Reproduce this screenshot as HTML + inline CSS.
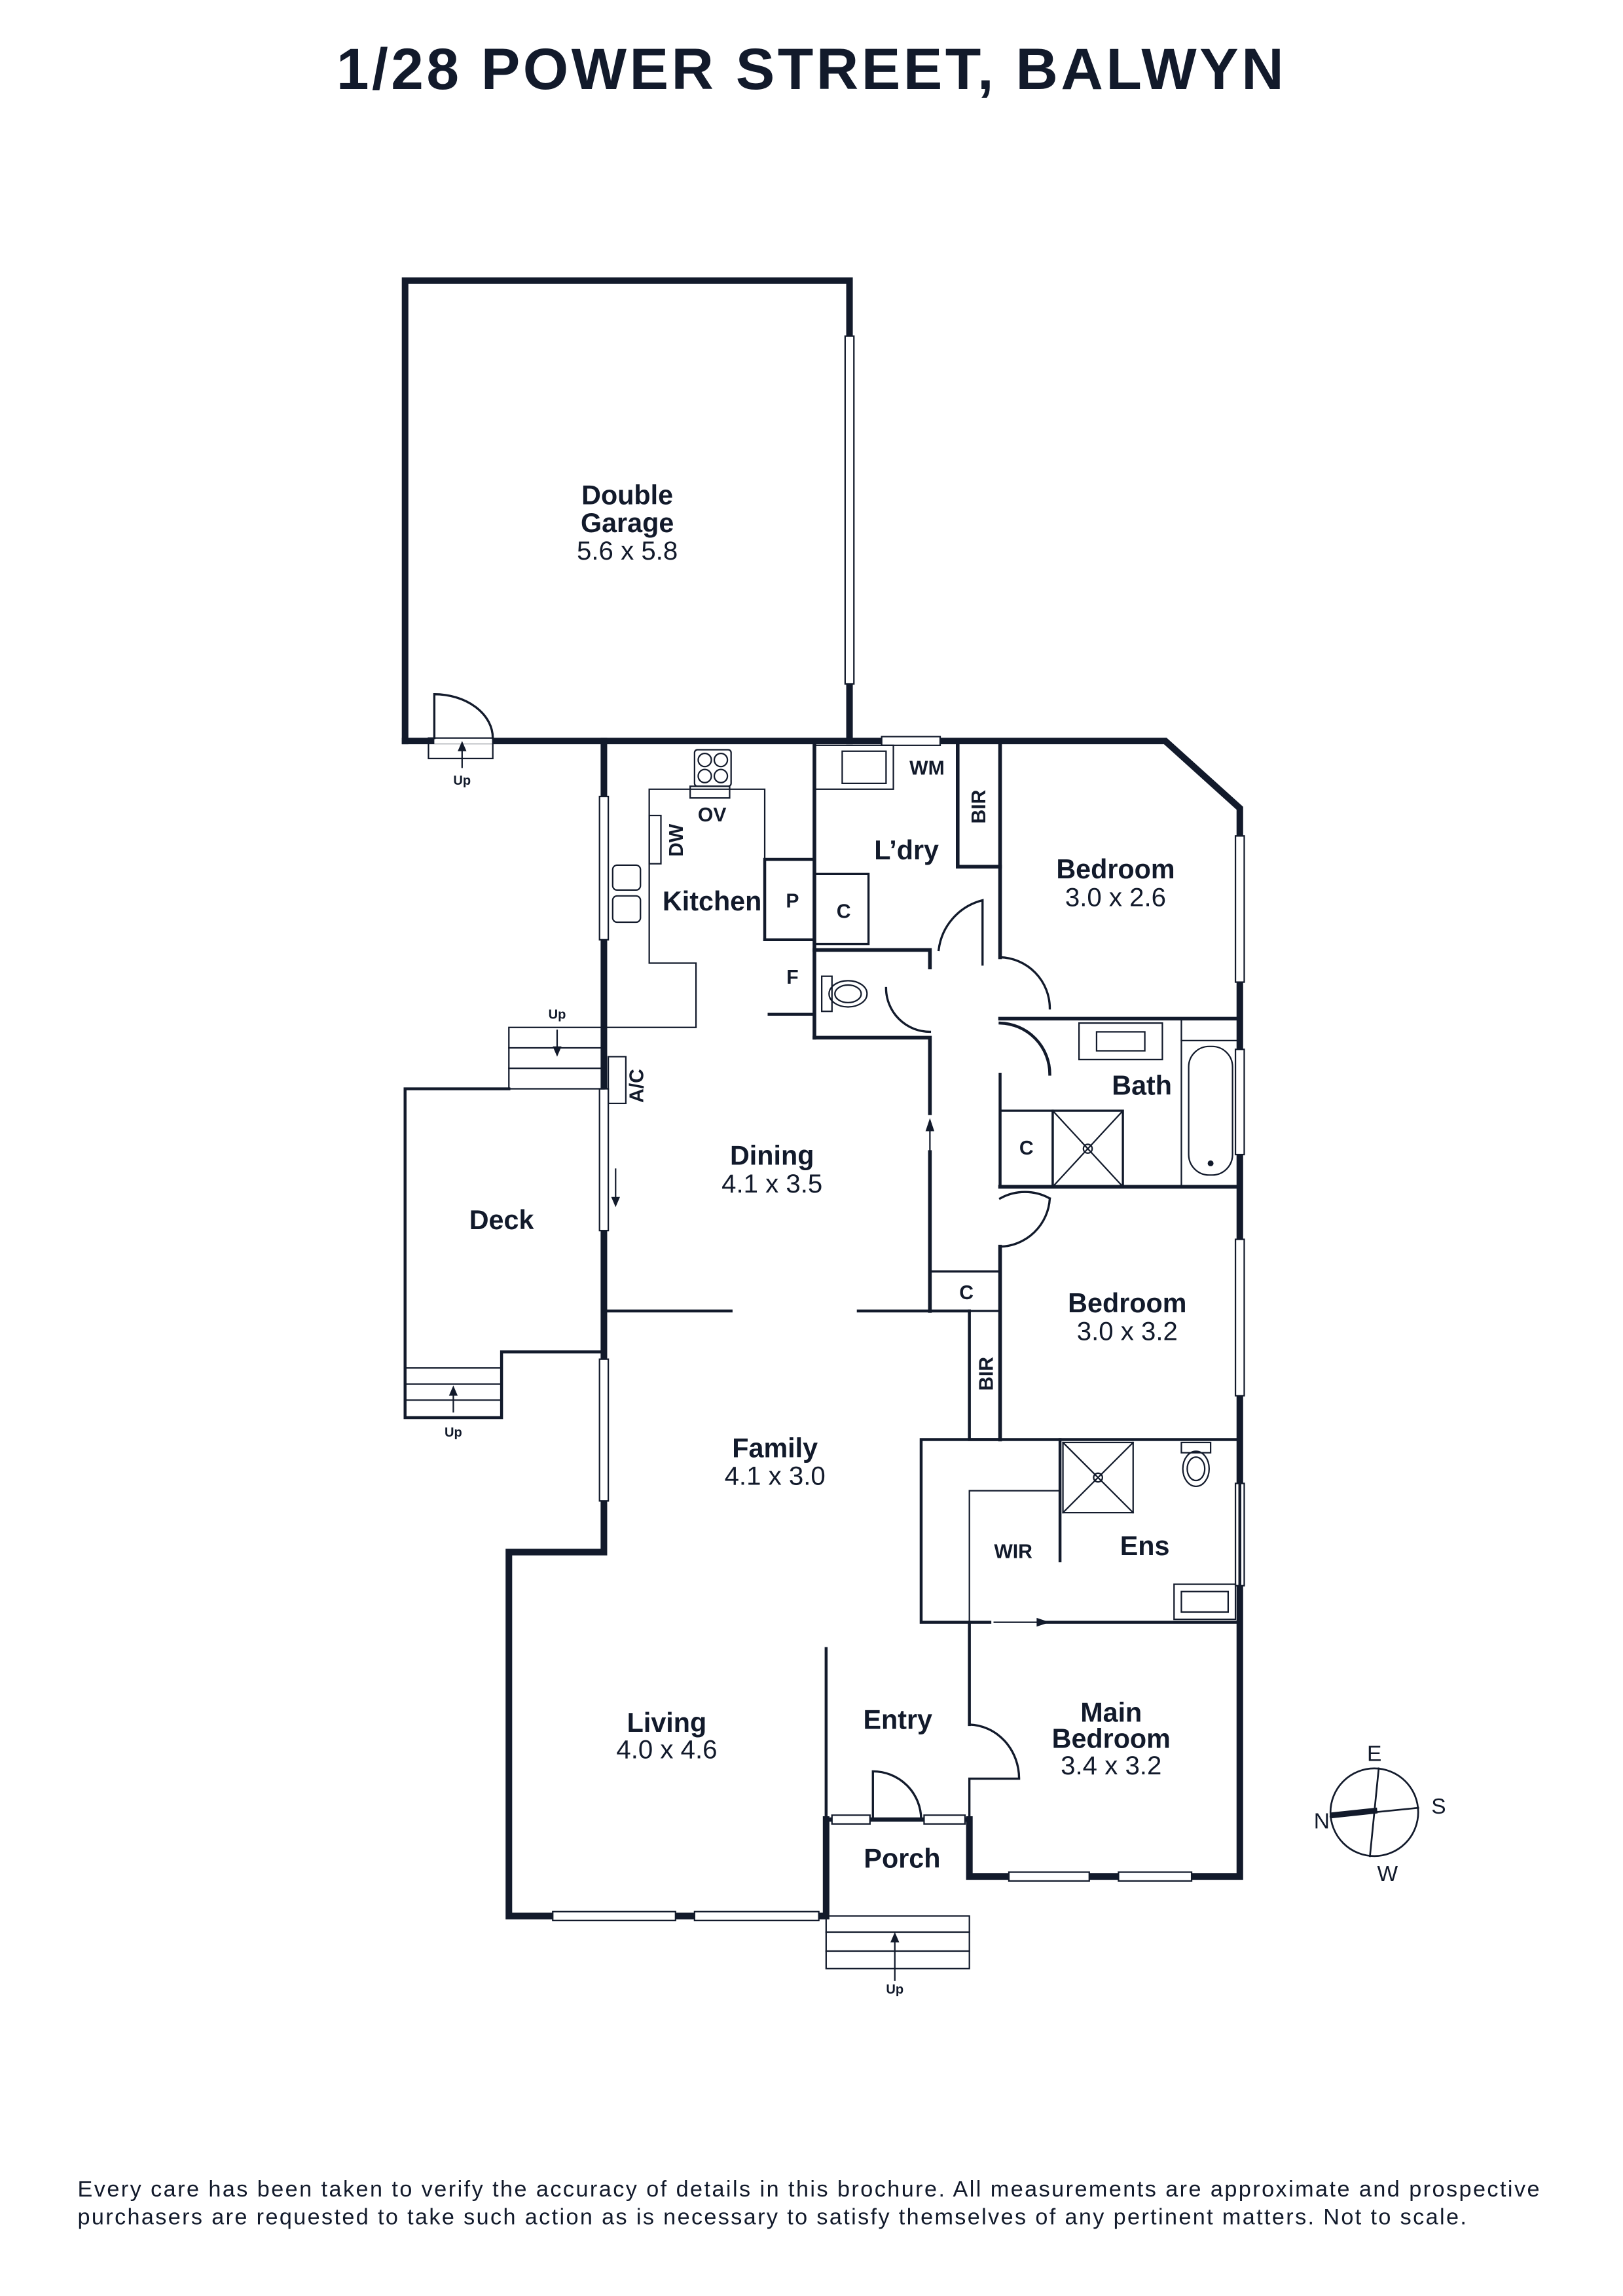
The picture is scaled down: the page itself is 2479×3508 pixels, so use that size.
<!DOCTYPE html>
<html><head><meta charset="utf-8"><style>
html,body{margin:0;padding:0;background:#fff}
svg{display:block}
text{font-family:"Liberation Sans",Arial,sans-serif;fill:#121a2b}
.b{font-weight:bold;font-size:18.5px}
.n{font-size:18px}
.s{font-weight:bold;font-size:13.5px}
.u{font-weight:bold;font-size:9px}
</style></head><body>
<svg width="2479" height="3508" viewBox="0 0 1110 1571" xmlns="http://www.w3.org/2000/svg">
<g stroke="#121a2b" fill="none" stroke-linecap="square">
<polyline stroke-width="4.5" points="277,507 277,192 581,192 581,507"/>
<polyline stroke-width="4.5" points="277,507 797,507 848,553 848,1284 663,1284 663,1245"/>
<polyline stroke-width="4.5" points="565,1245 565,1311 348,1311 348,1062 413,1062 413,507"/>
<line x1="565" y1="1245" x2="663" y2="1245" stroke-width="3"/>
<g fill="#fff" stroke-width="1">
<rect x="578" y="230" width="6" height="238"/>
<rect x="603" y="504" width="40" height="6"/>
<rect x="410" y="545" width="6" height="98"/>
<rect x="410" y="745" width="6" height="97"/>
<rect x="410" y="930" width="6" height="97"/>
<rect x="845" y="572" width="6" height="100"/>
<rect x="845" y="718" width="6" height="72"/>
<rect x="845" y="848" width="6" height="107"/>
<rect x="845" y="1015" width="6" height="70"/>
<rect x="378" y="1308" width="84" height="6"/>
<rect x="475" y="1308" width="85" height="6"/>
<rect x="690" y="1281" width="55" height="6"/>
<rect x="765" y="1281" width="50" height="6"/>
<rect x="569" y="1242" width="26" height="6"/>
<rect x="632" y="1242" width="28" height="6"/>
</g>
<rect x="297" y="503" width="40" height="6" fill="#fff" stroke="none"/>
<path d="M297,505 V475 A40,30 0 0 1 337,505" stroke-width="1.5"/>
<rect x="293" y="505" width="44" height="14" stroke-width="1"/>
<polyline stroke-width="2" points="348,745 277,745 277,970 343,970 343,925 413,925"/>
<rect x="348" y="703" width="65" height="42" stroke-width="1"/>
<line x1="348" y1="717" x2="413" y2="717" stroke-width="1"/><line x1="348" y1="731" x2="413" y2="731" stroke-width="1"/>
<line x1="277" y1="936" x2="343" y2="936" stroke-width="1"/><line x1="277" y1="947" x2="343" y2="947" stroke-width="1"/><line x1="277" y1="958" x2="343" y2="958" stroke-width="1"/>
<rect x="416" y="723" width="12" height="32" stroke-width="1"/>
<rect x="565" y="1311" width="98" height="36" stroke-width="1"/>
<line x1="565" y1="1322" x2="663" y2="1322" stroke-width="1"/><line x1="565" y1="1335" x2="663" y2="1335" stroke-width="1"/>
<path d="M597,1245 V1212 A33,33 0 0 1 630,1245" stroke-width="1.5"/>
<polyline stroke-width="1" points="413,703 476,703 476,659 444,659 444,540 523,540 523,588"/>
<rect x="475" y="513" width="25" height="25" rx="2" stroke-width="1"/>
<circle cx="482" cy="520" r="4.5" stroke-width="1"/><circle cx="493" cy="520" r="4.5" stroke-width="1"/>
<circle cx="482" cy="531" r="4.5" stroke-width="1"/><circle cx="493" cy="531" r="4.5" stroke-width="1"/>
<rect x="472" y="538" width="27" height="8" stroke-width="1"/>
<rect x="444" y="558" width="8" height="33" stroke-width="1"/>
<rect x="419" y="592" width="19" height="17" rx="3" stroke-width="1"/>
<rect x="419" y="613" width="19" height="18" rx="3" stroke-width="1"/>
<polyline stroke-width="2" points="523,643 523,588 557,588"/>
<line x1="523" y1="643" x2="557" y2="643" stroke-width="2"/>
<line x1="526" y1="694" x2="557" y2="694" stroke-width="2"/>
<line x1="557" y1="507" x2="557" y2="710" stroke-width="2.5"/>
<rect x="557" y="510" width="54" height="30" stroke-width="1"/>
<rect x="576" y="514" width="30" height="22" stroke-width="1"/>
<polyline stroke-width="2.5" points="655,507 655,593 684,593"/>
<rect x="557" y="598" width="37" height="48" stroke-width="1.5"/>
<polyline stroke-width="2.5" points="557,650 636,650 636,662"/>
<polyline stroke-width="2.5" points="557,710 636,710 636,897"/>
<rect x="562" y="668" width="7" height="24" stroke-width="1"/>
<ellipse cx="580" cy="680" rx="13" ry="9" stroke-width="1"/><ellipse cx="580" cy="680" rx="9" ry="6" stroke-width="1"/>
<path d="M606,676 A30,30 0 0 0 636,706" stroke-width="1.5"/>
<path d="M672,660 V616 A40,40 0 0 0 642,650" stroke-width="1.5"/>
<line x1="636" y1="765" x2="636" y2="785" stroke="#fff" stroke-width="4"/>
<line x1="636" y1="800" x2="636" y2="770" stroke-width="1"/>
<polygon points="636,765 633,774 639,774" fill="#121a2b" stroke="none"/>
<line x1="684" y1="507" x2="684" y2="655" stroke-width="2.5"/>
<path d="M684,655 A35,35 0 0 1 718,690" stroke-width="1.5"/>
<line x1="684" y1="697" x2="848" y2="697" stroke-width="2.5"/>
<path d="M684,700 A35,35 0 0 1 718,735 M684,735 V812" stroke-width="2"/>
<line x1="684" y1="812" x2="848" y2="812" stroke-width="2.5"/>
<path d="M684,820 A35,35 0 0 1 718,820 M684,853 A35,35 0 0 0 718,820" stroke-width="1.5"/>
<line x1="684" y1="853" x2="684" y2="985" stroke-width="2.5"/>
<rect x="684" y="760" width="36" height="52" stroke-width="1.5"/>
<rect x="720" y="760" width="48" height="52" stroke-width="1.5"/>
<path d="M720,760 L768,812 M768,760 L720,812" stroke-width="1"/>
<circle cx="744" cy="786" r="3" stroke-width="1"/>
<rect x="738" y="700" width="57" height="25" stroke-width="1"/><rect x="750" y="706" width="33" height="13" stroke-width="1"/>
<line x1="808" y1="697" x2="808" y2="812" stroke-width="1"/>
<line x1="808" y1="712" x2="848" y2="712" stroke-width="1"/>
<rect x="813" y="716" width="30" height="88" rx="14" stroke-width="1"/>
<circle cx="828" cy="796" r="1.5" fill="#121a2b"/>
<rect x="636" y="870" width="48" height="27" stroke-width="1.5"/>
<line x1="413" y1="897" x2="500" y2="897" stroke-width="2"/>
<line x1="587" y1="897" x2="663" y2="897" stroke-width="2"/>
<polyline stroke-width="2" points="663,897 663,985 684,985 684,897"/>
<rect x="630" y="985" width="218" height="125" stroke-width="2"/>
<line x1="680" y1="1110" x2="712" y2="1110" stroke="#fff" stroke-width="4"/>
<line x1="680" y1="1110" x2="710" y2="1110" stroke-width="1"/>
<polygon points="718,1110 709,1107 709,1113" fill="#121a2b" stroke="none"/>
<polyline stroke-width="1" points="663,1110 663,1020 725,1020"/>
<line x1="725" y1="985" x2="725" y2="1068" stroke-width="2"/>
<rect x="727" y="987" width="48" height="48" stroke-width="1"/>
<path d="M727,987 L775,1035 M775,987 L727,1035" stroke-width="1"/>
<circle cx="751" cy="1011" r="3" stroke-width="1"/>
<rect x="808" y="987" width="20" height="7" stroke-width="1"/>
<ellipse cx="818" cy="1005" rx="9" ry="12" stroke-width="1"/><ellipse cx="818" cy="1005" rx="6" ry="8" stroke-width="1"/>
<rect x="803" y="1084" width="42" height="24" stroke-width="1"/><rect x="808" y="1089" width="32" height="14" stroke-width="1"/>
<line x1="663" y1="1110" x2="663" y2="1180" stroke-width="2"/>
<path d="M663,1180 A35,37 0 0 1 697,1217 M663,1217 H697 M663,1217 V1245" stroke-width="1.5"/>
<line x1="565" y1="1128" x2="565" y2="1245" stroke-width="2"/>
<g stroke-width="1">
<line x1="316" y1="525" x2="316" y2="510"/><line x1="381" y1="705" x2="381" y2="720"/>
<line x1="310" y1="966" x2="310" y2="952"/><line x1="612" y1="1355" x2="612" y2="1325"/>
<line x1="421" y1="800" x2="421" y2="822"/>
</g>
<g fill="#121a2b" stroke="none">
<polygon points="316,507 313,514 319,514"/><polygon points="381,723 378,716 384,716"/>
<polygon points="310,948 307,955 313,955"/><polygon points="612,1322 609,1329 615,1329"/>
<polygon points="421,826 418,819 424,819"/>
</g>
<circle cx="940" cy="1240" r="30" stroke-width="1.2"/>
<line x1="943" y1="1210" x2="937" y2="1270" stroke-width="1.2"/>
<line x1="910" y1="1243" x2="970" y2="1237" stroke-width="1.2"/>
<line x1="912" y1="1242" x2="940" y2="1239" stroke-width="4"/>
</g>
<text x="555" y="61" text-anchor="middle" style="font-weight:bold;font-size:40px;letter-spacing:2px">1/28 POWER STREET, BALWYN</text>
<g text-anchor="middle">
<text x="429" y="345" class="b">Double</text><text x="429" y="364" class="b">Garage</text><text x="429" y="383" class="n">5.6 x 5.8</text>
<text x="487" y="623" class="b">Kitchen</text>
<text x="487" y="562" class="s">OV</text>
<text x="620" y="588" class="b">L’dry</text>
<text x="634" y="530" class="s">WM</text>
<text x="542" y="621" class="s">P</text>
<text x="577" y="628" class="s">C</text>
<text x="542" y="673" class="s">F</text>
<text x="763" y="601" class="b">Bedroom</text><text x="763" y="620" class="n">3.0 x 2.6</text>
<text x="781" y="749" class="b">Bath</text>
<text x="702" y="790" class="s">C</text>
<text x="528" y="797" class="b">Dining</text><text x="528" y="816" class="n">4.1 x 3.5</text>
<text x="343" y="841" class="b">Deck</text>
<text x="661" y="889" class="s">C</text>
<text x="771" y="898" class="b">Bedroom</text><text x="771" y="917" class="n">3.0 x 3.2</text>
<text x="530" y="997" class="b">Family</text><text x="530" y="1016" class="n">4.1 x 3.0</text>
<text x="693" y="1066" class="s">WIR</text>
<text x="783" y="1064" class="b">Ens</text>
<text x="456" y="1185" class="b">Living</text><text x="456" y="1203" class="n">4.0 x 4.6</text>
<text x="614" y="1183" class="b">Entry</text>
<text x="760" y="1178" class="b">Main</text><text x="760" y="1196" class="b">Bedroom</text><text x="760" y="1214" class="n">3.4 x 3.2</text>
<text x="617" y="1278" class="b">Porch</text>
<text x="316" y="537" class="u">Up</text><text x="381" y="697" class="u">Up</text>
<text x="310" y="983" class="u">Up</text><text x="612" y="1364" class="u">Up</text>
<text x="940" y="1205" style="font-size:15px">E</text>
<text x="984" y="1241" style="font-size:15px">S</text>
<text x="949" y="1287" style="font-size:15px">W</text>
<text x="904" y="1251" style="font-size:15px">N</text>
</g>
<text transform="translate(467,575) rotate(-90)" text-anchor="middle" class="s">DW</text>
<text transform="translate(674,552) rotate(-90)" text-anchor="middle" class="s">BIR</text>
<text transform="translate(679,940) rotate(-90)" text-anchor="middle" class="s">BIR</text>
<text transform="translate(440,743) rotate(-90)" text-anchor="middle" class="s">A/C</text>
<text x="53" y="1503" style="font-size:15.3px" textLength="1000" lengthAdjust="spacing">Every care has been taken to verify the accuracy of details in this brochure. All measurements are approximate and prospective</text>
<text x="53" y="1522" style="font-size:15.3px" textLength="950" lengthAdjust="spacing">purchasers are requested to take such action as is necessary to satisfy themselves of any pertinent matters. Not to scale.</text>
</svg>
</body></html>
